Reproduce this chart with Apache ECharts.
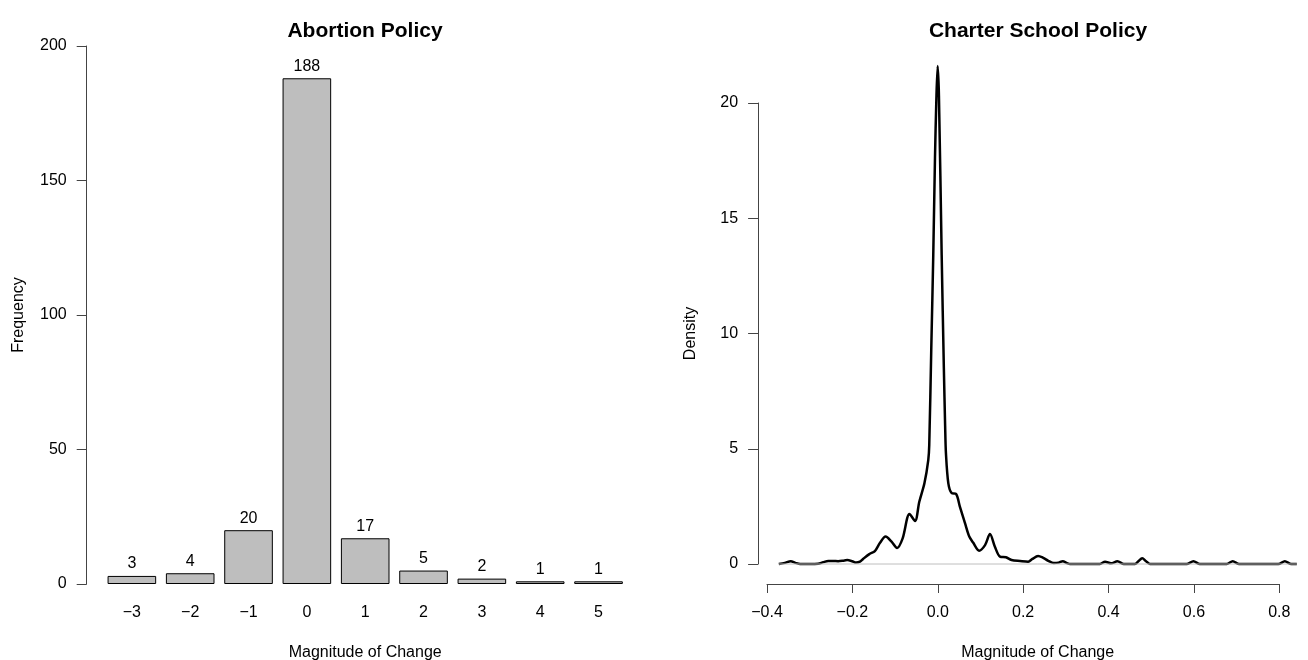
<!DOCTYPE html>
<html>
<head>
<meta charset="utf-8">
<script src="https://cdn.jsdelivr.net/npm/echarts@6/dist/echarts.min.js"></script>
<style>
  html, body { margin: 0; padding: 0; background: #fff; }
  #chart { width: 1308px; height: 660px; }
</style>
</head>
<body>
<div id="chart"></div>
<script>
// left panel: bar counts
const abortionCats = ['−3', '−2', '−1', '0', '1', '2', '3', '4', '5'];
const abortionCounts = [3, 4, 20, 188, 17, 5, 2, 1, 1];
const freqTicks = [0, 50, 100, 150, 200];

// right panel: density curve
const charterX = [
  -0.372, -0.358, -0.344, -0.333, -0.322, -0.300, -0.280, -0.268, -0.256, -0.245,
  -0.233, -0.222, -0.212, -0.200, -0.191, -0.182, -0.174, -0.160, -0.147, -0.135,
  -0.122, -0.108, -0.095, -0.082, -0.066, -0.053, -0.043, -0.031, -0.022, -0.0197,
  -0.015, -0.0103, -0.0063, -0.003, 0.000, 0.003, 0.0094, 0.0145, 0.0175, 0.0194,
  0.025, 0.033, 0.043, 0.052, 0.064, 0.074, 0.083, 0.097, 0.111, 0.1225,
  0.134, 0.146, 0.160, 0.173, 0.193, 0.212, 0.222, 0.235, 0.247, 0.259,
  0.272, 0.283, 0.293, 0.303, 0.310, 0.380, 0.392, 0.406, 0.421, 0.436,
  0.462, 0.470, 0.479, 0.488, 0.497, 0.583, 0.599, 0.614, 0.677, 0.691,
  0.706, 0.798, 0.813, 0.828, 0.841
];
const charterDensity = [
  0.00, 0.05, 0.12, 0.05, 0.00, 0.00, 0.01, 0.08, 0.13, 0.13,
  0.12, 0.14, 0.17, 0.12, 0.06, 0.10, 0.23, 0.43, 0.56, 0.92,
  1.19, 0.97, 0.69, 1.11, 2.17, 1.87, 2.70, 3.50, 4.51, 5.16,
  9.30, 13.4, 17.6, 20.2, 21.6, 20.3, 13.4, 8.50, 6.00, 4.80,
  3.50, 3.07, 3.04, 2.49, 1.77, 1.19, 0.93, 0.58, 0.82, 1.30,
  0.75, 0.32, 0.29, 0.17, 0.13, 0.10, 0.22, 0.35, 0.27, 0.14,
  0.04, 0.06, 0.12, 0.04, 0.00, 0.00, 0.10, 0.03, 0.12, 0.00,
  0.00, 0.12, 0.25, 0.12, 0.00, 0.00, 0.12, 0.00, 0.00, 0.12,
  0.00, 0.00, 0.12, 0.00, 0.00
];
// plot region of the density panel (data range + 4%)
const densityRange = [-0.4205, 0.8895];
const densityTicks = [-0.4, -0.2, 0, 0.2, 0.4, 0.6, 0.8];

const FONT = 'Liberation Sans, Arial, Helvetica, sans-serif';
const axisGrey = '#444';

const chart = echarts.init(document.getElementById('chart'), null, { renderer: 'canvas' });

const densityPts = charterX.map((x, i) => [x, charterDensity[i]]);
// grey zero line under the curve, same x range as the curve
const zeroPts = [[charterX[0], 0], [charterX[charterX.length - 1], 0]];

const option = {
  animation: false,
  textStyle: { fontFamily: FONT },
  title: [
    {
      text: 'Abortion Policy', left: 365, top: 21, textAlign: 'center', padding: 0,
      textStyle: { fontFamily: FONT, fontSize: 21, fontWeight: 'bold', color: '#000' }
    },
    {
      text: 'Charter School Policy', left: 1038, top: 21, textAlign: 'center', padding: 0,
      textStyle: { fontFamily: FONT, fontSize: 21, fontWeight: 'bold', color: '#000' }
    }
  ],
  grid: [
    { left: 102.7, top: 46, width: 525, height: 538, outerBoundsMode: 'none', containLabel: false },
    // density data area (full plot region)
    { left: 758.1, top: 103, width: 559.4, height: 461, outerBoundsMode: 'none', containLabel: false },
    // x axis of the density panel, drawn from -0.4 to 0.8 only
    { left: 767, top: 103, width: 512.3, height: 461, outerBoundsMode: 'none', containLabel: false }
  ],
  xAxis: [
    {
      type: 'category', gridIndex: 0, data: abortionCats,
      axisLine: { show: false }, axisTick: { show: false },
      axisLabel: { margin: 21, fontSize: 16, color: '#000', fontFamily: FONT },
      name: 'Magnitude of Change', nameLocation: 'middle', nameGap: 61,
      nameTextStyle: { fontSize: 16, color: '#000', fontFamily: FONT }
    },
    {
      type: 'value', gridIndex: 1, min: densityRange[0], max: densityRange[1], show: false
    },
    {
      type: 'value', gridIndex: 2,
      min: densityTicks[0], max: densityTicks[densityTicks.length - 1], interval: 0.2,
      offset: 20,
      axisLine: { show: true, onZero: false, lineStyle: { color: axisGrey, width: 1 } },
      axisTick: { show: true, length: 9, lineStyle: { color: axisGrey } },
      axisLabel: {
        margin: 21, fontSize: 16, color: '#000', fontFamily: FONT,
        formatter: v => v.toFixed(1).replace('-', '−')
      },
      splitLine: { show: false },
      name: 'Magnitude of Change', nameLocation: 'middle', nameGap: 61,
      nameTextStyle: { fontSize: 16, color: '#000', fontFamily: FONT, padding: [0, 0, 0, 29] }
    }
  ],
  yAxis: [
    {
      type: 'value', gridIndex: 0, min: freqTicks[0], max: freqTicks[freqTicks.length - 1], interval: 50,
      offset: 16,
      axisLine: { show: true, onZero: false, lineStyle: { color: axisGrey, width: 1 } },
      axisTick: { show: true, length: 10, lineStyle: { color: axisGrey } },
      axisLabel: { margin: 20, fontSize: 16, color: '#000', fontFamily: FONT },
      splitLine: { show: false },
      name: 'Frequency', nameLocation: 'middle', nameGap: 60,
      nameTextStyle: { fontSize: 16, color: '#000', fontFamily: FONT }
    },
    {
      type: 'value', gridIndex: 1, min: 0, max: 20, interval: 5,
      axisLine: { show: true, onZero: false, lineStyle: { color: axisGrey, width: 1 } },
      axisTick: { show: true, length: 10, lineStyle: { color: axisGrey } },
      axisLabel: { margin: 20, fontSize: 16, color: '#000', fontFamily: FONT },
      splitLine: { show: false },
      name: 'Density', nameLocation: 'middle', nameGap: 60,
      nameTextStyle: { fontSize: 16, color: '#000', fontFamily: FONT }
    },
    {
      type: 'value', gridIndex: 2, min: 0, max: 20, show: false
    }
  ],
  series: [
    {
      type: 'bar', xAxisIndex: 0, yAxisIndex: 0, data: abortionCounts,
      barWidth: 48.6,
      itemStyle: { color: '#bebebe', borderColor: '#000', borderWidth: 1 },
      label: { show: true, position: 'top', distance: 4, fontSize: 16, color: '#000', fontFamily: FONT }
    },
    {
      type: 'line', xAxisIndex: 1, yAxisIndex: 1, data: densityPts,
      showSymbol: false, symbol: 'none', smooth: 0.3, clip: false,
      lineStyle: { color: '#000', width: 2.5 }, z: 2
    },
    {
      type: 'line', xAxisIndex: 1, yAxisIndex: 1, data: zeroPts,
      showSymbol: false, symbol: 'none', clip: false,
      lineStyle: { color: '#bebebe', width: 1 }, z: 3
    }
  ]
};

chart.setOption(option);
</script>
</body>
</html>
